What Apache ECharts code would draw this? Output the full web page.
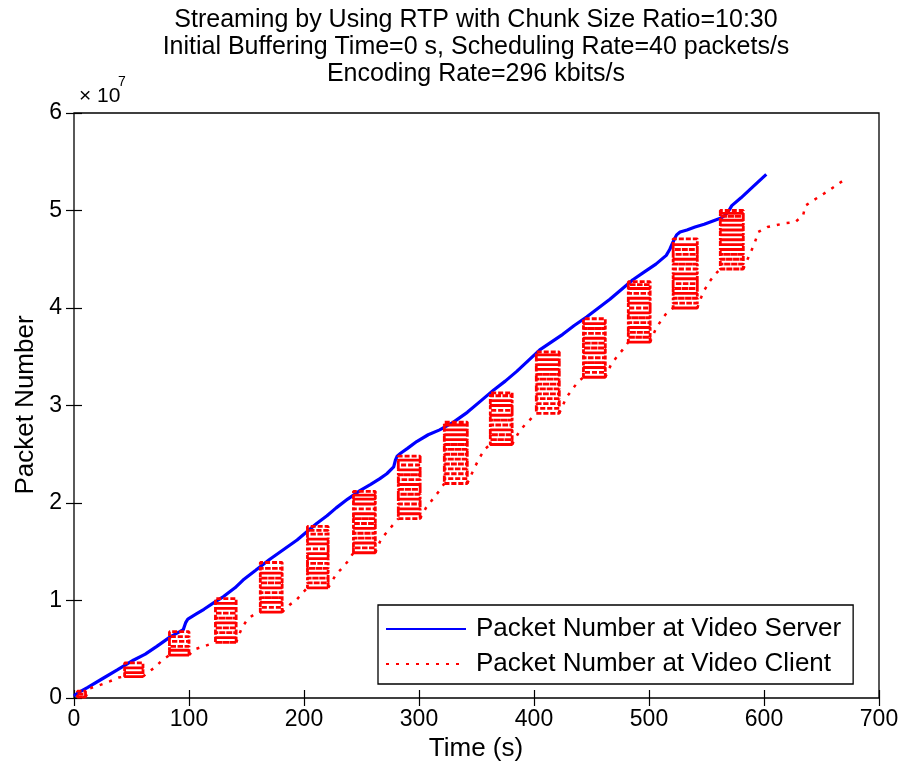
<!DOCTYPE html>
<html>
<head>
<meta charset="utf-8">
<script src="https://cdn.jsdelivr.net/npm/echarts@6/dist/echarts.min.js"></script>
<style>
html, body { margin: 0; padding: 0; background: #fff; }
#chart { width: 905px; height: 774px; }
</style>
</head>
<body>
<div id="chart"></div>
<script>
// ---------- text ----------
const titleLines = [
  'Streaming by Using RTP with Chunk Size Ratio=10:30',
  'Initial Buffering Time=0 s, Scheduling Rate=40 packets/s',
  'Encoding Rate=296 kbits/s'
];
const xAxisTitle = 'Time (s)';
const yAxisTitle = 'Packet Number';
const seriesNames = ['Packet Number at Video Server', 'Packet Number at Video Client'];

// ---------- axes (packet numbers in units of 1e7) ----------
const xTicks = [0, 100, 200, 300, 400, 500, 600, 700];
const yTicks = [0, 1, 2, 3, 4, 5, 6];

// ---------- server series ----------
const serverTime = [0,3,12,25,38,52,62,72,84,92,95,97,99,106,113,122,130,140,147,158,170,182,194,203,211,220,228,238,249,258,266,272,278,279.5,281,284,290,298,308,318,330,342,353,365,375,385,395,405,415,425,435,446,456,466,476,486,496,506,515,518,521,524,527,533,540,548,555,562,566,569,572,580,590,602];
const serverPackets = [0.02,0.05,0.11,0.20,0.29,0.39,0.45,0.53,0.63,0.68,0.70,0.77,0.81,0.86,0.91,0.98,1.04,1.13,1.21,1.31,1.42,1.52,1.62,1.71,1.79,1.87,1.95,2.04,2.13,2.19,2.25,2.30,2.37,2.44,2.48,2.51,2.56,2.63,2.70,2.75,2.83,2.93,3.04,3.16,3.25,3.35,3.46,3.57,3.65,3.73,3.82,3.91,4.00,4.09,4.19,4.29,4.37,4.45,4.54,4.60,4.68,4.75,4.78,4.80,4.83,4.86,4.89,4.92,4.95,4.99,5.05,5.13,5.24,5.37];

// ---------- client series: bursts (time span + packet levels of the rows) ----------
const burstStart = [3, 44, 83, 123, 162, 203, 243, 282, 322, 362, 402, 443, 482, 521, 562];
const burstEnd   = [10, 60, 100, 141, 181, 221, 262, 301, 342, 381, 422, 462, 501, 542, 582];
const burstLevels = [
  [0.01,0.04,0.07],
  [0.22,0.26,0.31,0.36],
  [0.44,0.49,0.53,0.58,0.63,0.68],
  [0.57,0.62,0.67,0.72,0.77,0.82,0.87,0.92,0.97,1.02],
  [0.88,0.93,0.98,1.03,1.08,1.13,1.18,1.23,1.28,1.33,1.39],
  [1.13,1.18,1.23,1.28,1.33,1.38,1.43,1.48,1.53,1.58,1.63,1.68,1.72,1.76],
  [1.49,1.54,1.59,1.64,1.69,1.74,1.79,1.84,1.89,1.94,1.99,2.04,2.08,2.12],
  [1.84,1.89,1.94,1.99,2.04,2.09,2.14,2.19,2.24,2.29,2.34,2.39,2.44,2.48],
  [2.20,2.25,2.30,2.35,2.40,2.45,2.50,2.55,2.60,2.65,2.70,2.75,2.80,2.83],
  [2.60,2.65,2.70,2.75,2.80,2.85,2.90,2.95,3.00,3.05,3.10,3.13],
  [2.92,2.97,3.02,3.07,3.12,3.17,3.22,3.27,3.32,3.37,3.42,3.47,3.52,3.55],
  [3.29,3.34,3.39,3.44,3.49,3.54,3.59,3.64,3.69,3.74,3.79,3.84,3.89],
  [3.65,3.70,3.75,3.80,3.85,3.90,3.95,4.00,4.05,4.10,4.15,4.20,4.24,4.27],
  [4.00,4.05,4.10,4.15,4.20,4.25,4.30,4.35,4.40,4.45,4.50,4.55,4.60,4.65,4.71],
  [4.40,4.45,4.50,4.55,4.60,4.65,4.70,4.75,4.80,4.85,4.90,4.94,4.97,5.00]
];
// client points between one burst and the next (last entry: tail after final burst)
const gapTime = [
  [14,22,31,39],
  [65,70,76],
  [105,113,120],
  [146,151,157],
  [188,193,199],
  [228,233,238],
  [267,272,277],
  [306,312,318],
  [347,352,357],
  [387,392,397],
  [428,433,438],
  [467,472,477],
  [506,511,516],
  [547,552,557],
  [588,592,595,603,611,618,627,634,636,641,649,657,668]
];
const gapPackets = [
  [0.10,0.13,0.17,0.21],
  [0.27,0.31,0.38],
  [0.50,0.53,0.56],
  [0.72,0.81,0.86],
  [0.96,1.00,1.08],
  [1.27,1.33,1.40],
  [1.63,1.70,1.77],
  [1.95,2.04,2.13],
  [2.33,2.45,2.55],
  [2.73,2.80,2.86],
  [3.08,3.16,3.24],
  [3.42,3.50,3.57],
  [3.79,3.88,3.96],
  [4.16,4.26,4.34],
  [4.56,4.67,4.78,4.83,4.85,4.87,4.88,4.95,5.05,5.09,5.15,5.21,5.30]
];

// ---------- build series data ----------
const serverData = serverTime.map((t, i) => [t, serverPackets[i]]);
const clientBurstData = [];
const clientGapData = [];
for (let i = 0; i < burstStart.length; i++) {
  const up = burstLevels[i];
  const visits = up.concat(up.slice(0, -1).reverse()); // rows climbed, then revisited downward
  visits.forEach((lv, k) => {
    if (k % 2 === 0) clientBurstData.push([burstStart[i], lv], [burstEnd[i], lv]);
    else clientBurstData.push([burstEnd[i], lv], [burstStart[i], lv]);
  });
  clientBurstData.push([burstEnd[i], null]);
  clientGapData.push([burstEnd[i], up[0]]);
  gapTime[i].forEach((t, j) => clientGapData.push([t, gapPackets[i][j]]));
  if (i + 1 < burstStart.length) {
    clientGapData.push([burstStart[i + 1], burstLevels[i + 1][0]]);
    clientGapData.push([burstStart[i + 1], null]);
  }
}

const FONT = "'Liberation Sans', Arial, Helvetica, sans-serif";
const tickStyle = { inside: true, length: 8, lineStyle: { color: '#000', width: 1.2 } };

const chart = echarts.init(document.getElementById('chart'), null, { renderer: 'canvas' });
chart.setOption({
  animation: false,
  backgroundColor: '#fff',
  title: {
    text: titleLines.join('\n'),
    left: 476, top: 7, padding: 0, textAlign: 'center',
    textStyle: { fontFamily: FONT, fontSize: 25, fontWeight: 'normal', color: '#000', lineHeight: 27 }
  },
  grid: { left: 74, right: 26, top: 113, bottom: 76, show: true, borderColor: '#000', borderWidth: 1.3, backgroundColor: '#fff' },
  xAxis: [
    { type: 'value', min: xTicks[0], max: xTicks[xTicks.length - 1], interval: xTicks[1] - xTicks[0], position: 'bottom',
      axisLine: { show: false }, axisTick: tickStyle, splitLine: { show: false },
      axisLabel: { margin: 10, fontSize: 23, color: '#000', fontFamily: FONT } },
    { type: 'value', min: xTicks[0], max: xTicks[xTicks.length - 1], interval: xTicks[1] - xTicks[0], position: 'top',
      axisLine: { show: false }, axisTick: tickStyle, splitLine: { show: false }, axisLabel: { show: false } }
  ],
  yAxis: [
    { type: 'value', min: yTicks[0], max: yTicks[yTicks.length - 1], interval: yTicks[1] - yTicks[0], position: 'left',
      axisLine: { show: false }, axisTick: tickStyle, splitLine: { show: false },
      axisLabel: { margin: 12, fontSize: 23, color: '#000', fontFamily: FONT } },
    { type: 'value', min: yTicks[0], max: yTicks[yTicks.length - 1], interval: yTicks[1] - yTicks[0], position: 'right',
      axisLine: { show: false }, axisTick: tickStyle, splitLine: { show: false }, axisLabel: { show: false } }
  ],
  legend: {
    data: seriesNames,
    orient: 'vertical',
    left: 378, top: 605,
    itemWidth: 80, itemHeight: 14, itemGap: 9,
    padding: [11, 12, 7, 7],
    borderColor: '#000', borderWidth: 1.3, backgroundColor: '#fff',
    itemStyle: { opacity: 0 },
    textStyle: { fontFamily: FONT, fontSize: 26, color: '#000', padding: [0, 0, 0, 5] }
  },
  graphic: [
    { type: 'text', x: 26, y: 405, rotation: Math.PI / 2,
      style: { text: yAxisTitle, font: '26px ' + FONT, fill: '#000', align: 'center', verticalAlign: 'middle' } },
    { type: 'text', x: 476, y: 749,
      style: { text: xAxisTitle, font: '26px ' + FONT, fill: '#000', align: 'center', verticalAlign: 'middle' } },
    { type: 'text', x: 79, y: 96,
      style: { text: '× 10', font: '21px ' + FONT, fill: '#000', align: 'left', verticalAlign: 'middle' } },
    { type: 'text', x: 118, y: 82,
      style: { text: '7', font: '14px ' + FONT, fill: '#000', align: 'left', verticalAlign: 'middle' } }
  ],
  series: [
    { name: seriesNames[0], type: 'line', data: serverData, symbol: 'none', showSymbol: false,
      lineStyle: { color: '#0000ff', width: 3.2 }, itemStyle: { color: '#0000ff' } },
    { name: seriesNames[1], type: 'line', data: clientGapData, symbol: 'none', showSymbol: false, connectNulls: false,
      lineStyle: { color: '#ff0000', width: 2.5, type: [3, 7] }, itemStyle: { color: '#ff0000' } },
    { name: seriesNames[1], type: 'line', data: clientBurstData, symbol: 'none', showSymbol: false, connectNulls: false,
      lineStyle: { color: '#ff0000', width: 2.8, type: [5, 2] }, itemStyle: { color: '#ff0000' } }
  ]
});
</script>
</body>
</html>
